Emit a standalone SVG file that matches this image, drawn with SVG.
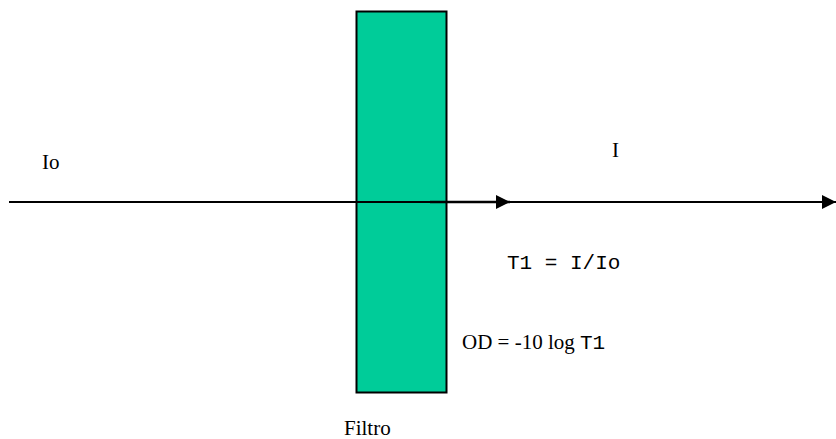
<svg xmlns="http://www.w3.org/2000/svg" width="836" height="439" viewBox="0 0 836 439">
<style>
.t{font-family:"Liberation Serif","Times New Roman",serif;font-size:21px;fill:#000}
.m{font-family:"Liberation Mono","Courier New",monospace;font-size:21px;fill:#000}
</style>
<defs>
<marker id="ah" markerUnits="userSpaceOnUse" markerWidth="15" markerHeight="14" refX="14" refY="7" orient="auto">
<path d="M0,0 L14,7 L0,14 Z" fill="#000"/>
</marker>
</defs>
<rect width="836" height="439" fill="#fff"/>
<g id="filtro">
<rect x="356.5" y="11.5" width="90" height="381" fill="#00CC99" stroke="#000" stroke-width="2"/>
<text class="t" x="344" y="435">Filtro</text>
</g>
<g id="connectors">
<line x1="9" y1="202" x2="836" y2="202" stroke="#000" stroke-width="2" marker-end="url(#ah)"/>
<line x1="430" y1="202" x2="510" y2="202" stroke="#000" stroke-width="2.5" marker-end="url(#ah)"/>
</g>
<g id="labels">
<text class="t" x="42" y="169">Io</text>
<text class="t" x="612" y="157">I</text>
<text class="m" x="507" y="269">T1 = I/Io</text>
<text class="t" x="462" y="349">OD = -10 log <tspan class="m">T1</tspan></text>
</g>
</svg>
